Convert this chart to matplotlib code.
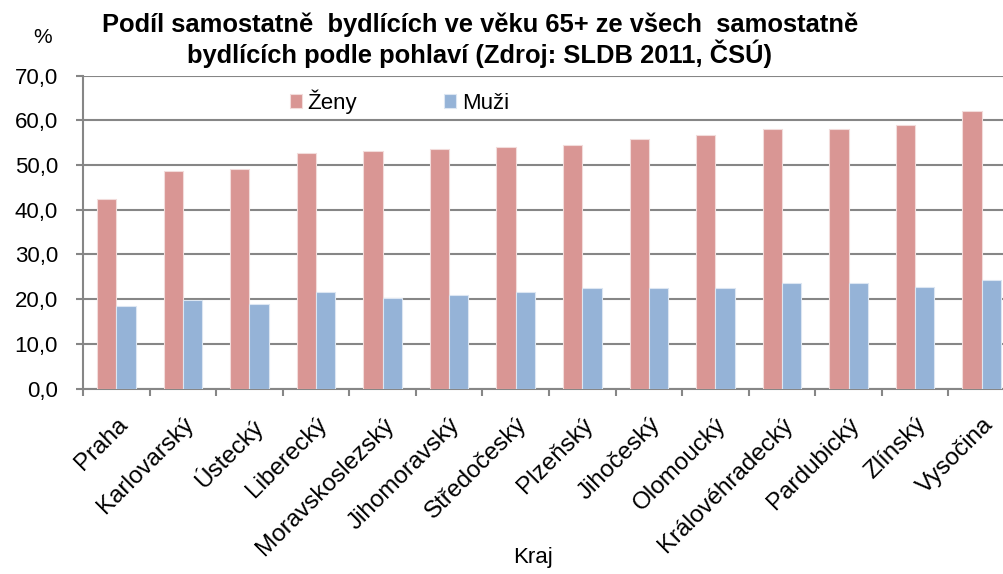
import numpy as np
import matplotlib.pyplot as plt
from matplotlib.transforms import ScaledTranslation

plt.rcParams['font.family'] = ['Liberation Sans', 'DejaVu Sans']

kraje = ["Praha", "Karlovarský", "Ústecký", "Liberecký", "Moravskoslezský",
         "Jihomoravský", "Středočeský", "Plzeňský", "Jihočeský", "Olomoucký",
         "Královéhradecký", "Pardubický", "Zlínský", "Vysočina"]
zeny = [42.5, 48.7, 49.2, 52.7, 53.2, 53.6, 54.0, 54.5, 55.8, 56.7, 58.1, 58.1, 59.0, 62.1]
muzi = [18.4, 19.7, 18.8, 21.5, 20.2, 21.0, 21.5, 22.4, 22.4, 22.4, 23.7, 23.7, 22.8, 24.2]

W, H = 1004, 574
fig = plt.figure(figsize=(W/100, H/100), dpi=100)
ax = fig.add_axes([83/W, 1-388.5/H, (1015-83)/W, (388.5-75.7)/H])

x = np.arange(len(kraje))
w = 0.29
ax.bar(x - w/2, zeny, w, color="#D99694", edgecolor="#F2DCDB", linewidth=0.8, label="Ženy", zorder=3)
ax.bar(x + w/2, muzi, w, color="#95B3D7", edgecolor="#DCE6F2", linewidth=0.8, label="Muži", zorder=3)

ax.set_xlim(-0.5, len(kraje) - 0.5)
ax.set_ylim(0, 70)
ax.set_yticks(np.arange(0, 71, 10))
ax.set_yticklabels([f"{v:.1f}".replace(".", ",") for v in np.arange(0, 71, 10)], fontsize=16)
ax.yaxis.grid(True, color="#868686", linewidth=1.5, zorder=0)

ax.set_xticks(x)
ax.set_xticklabels(kraje, rotation=45, ha="right", rotation_mode="anchor", fontsize=17.5)
shift = ScaledTranslation(-5/100, 0, fig.dpi_scale_trans)
for lbl in ax.get_xticklabels():
    lbl.set_transform(lbl.get_transform() + shift)
ax.set_xticks(np.arange(-0.5, len(kraje)), minor=True)
ax.tick_params(axis="x", which="major", length=0, pad=18)
ax.tick_params(axis="x", which="minor", length=5, width=1.5, color="#868686")
ax.tick_params(axis="y", length=5, width=1.5, color="#868686", pad=13)

for s in ["top", "right"]:
    ax.spines[s].set_visible(False)
for s in ["left", "bottom"]:
    ax.spines[s].set_color("#868686")
    ax.spines[s].set_linewidth(1.5)

ax.legend(loc="center left", bbox_to_anchor=(198/932, 1-26/312.8), ncol=2, frameon=False, fontsize=16,
          handlelength=0.55, handleheight=0.55, columnspacing=3.9, handletextpad=0.25, borderaxespad=0)

fig.text(533/W, 1-563/H, "Kraj", ha="center", va="baseline", fontsize=16)
fig.text(480/W, 1-32/H, "Podíl samostatně  bydlících ve věku 65+ ze všech  samostatně",
         ha="center", va="baseline", fontsize=18.4, fontweight="bold")
fig.text(480/W, 1-63/H, "bydlících podle pohlaví (Zdroj: SLDB 2011, ČSÚ)",
         ha="center", va="baseline", fontsize=18.4, fontweight="bold")
fig.text(43/W, 1-43/H, "%", ha="center", va="baseline", fontsize=15)

fig.savefig("out.png", dpi=100)
